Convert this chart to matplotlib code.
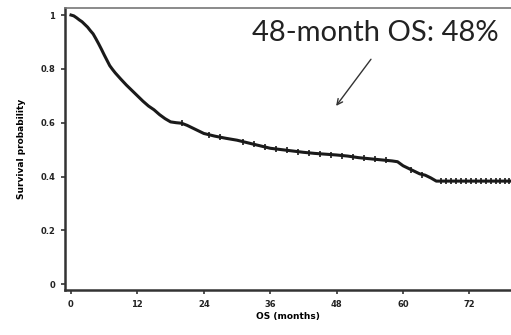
import matplotlib
matplotlib.use("Agg")
import matplotlib.pyplot as plt
import numpy as np

# Kaplan-Meier estimates
months = [0, 0.5, 1, 1.5, 2, 2.5, 3, 3.5, 4, 4.5, 5, 5.5, 6, 6.5, 7, 7.5, 8, 9, 10, 11,
          12, 13, 14, 15, 16, 17, 18, 19, 20, 21, 22, 23, 24, 26, 28, 30, 32, 34, 36,
          38, 40, 42, 44, 46, 48, 50, 52, 54, 56, 58, 59, 60, 61, 62, 63, 64, 65, 66, 79.3]
survival = [1.0, 0.997, 0.99, 0.982, 0.975, 0.965, 0.955, 0.942, 0.93, 0.912, 0.893, 0.873,
            0.852, 0.832, 0.812, 0.798, 0.785, 0.762, 0.74, 0.72, 0.70, 0.68, 0.662, 0.648,
            0.63, 0.615, 0.603, 0.60, 0.598, 0.59, 0.58, 0.57, 0.56, 0.55, 0.542,
            0.535, 0.525, 0.515, 0.505, 0.50, 0.495, 0.49, 0.486, 0.483, 0.48, 0.476,
            0.47, 0.466, 0.462, 0.458, 0.455, 0.44, 0.43, 0.42, 0.41, 0.405, 0.395,
            0.383, 0.383]
censor_times = [20, 25, 27, 31, 33, 35, 37, 39, 41, 43, 45, 47, 49, 51, 53, 55, 57,
                61.5, 63.5, 66.8, 67.7, 68.6, 69.5, 70.4, 71.3, 72.2, 73.1, 74.0, 74.9,
                75.8, 76.7, 77.6, 78.5, 79.2]
xticks = [0, 12, 24, 36, 48, 60, 72]
yticks = [0, 0.2, 0.4, 0.6, 0.8, 1]
ytick_labels = ["0", "0.2", "0.4", "0.6", "0.8", "1"]
annotation = "48-month OS: 48%"

fig = plt.figure(figsize=(5.11, 3.35), dpi=100)
ax = fig.add_axes([0.127, 0.134, 0.873, 0.842])

ax.plot(months, survival, color="#1a1a1a", lw=2.2, solid_joinstyle="round")
m = np.array(months)
s = np.array(survival)
cens_y = [np.interp(t, m, s) for t in censor_times]
ax.plot(censor_times, cens_y, linestyle="none", marker="|", markersize=4,
        color="#1a1a1a", markeredgewidth=1.2)

ax.set_xlim(-1.1, 79.5)
ax.set_ylim(-0.022, 1.026)
ax.set_xticks(xticks)
ax.set_xticklabels([str(t) for t in xticks], fontsize=6, fontweight="bold", color="#222")
ax.set_yticks(yticks)
ax.set_yticklabels(ytick_labels, fontsize=6, fontweight="bold", color="#222")
ax.tick_params(length=3, width=1.2, color="#333", pad=4)

for sp in ["left", "bottom"]:
    ax.spines[sp].set_linewidth(1.8)
    ax.spines[sp].set_color("#333")
ax.spines["top"].set_linewidth(1.2)
ax.spines["top"].set_color("#777")
ax.spines["right"].set_visible(False)

ax.set_xlabel("OS (months)", fontsize=6.5, fontweight="bold", labelpad=2)
ax.set_ylabel("Survival probability", fontsize=6.5, fontweight="bold", labelpad=10)

ax.text(55.0, 0.935, annotation, fontsize=21, family="Lato", color="#222",
        ha="center", va="center")
ax.annotate("", xy=(47.6, 0.654), xytext=(54.5, 0.844),
            arrowprops=dict(arrowstyle="->", color="#333", lw=1.0))

fig.savefig("out.png", dpi=100)
